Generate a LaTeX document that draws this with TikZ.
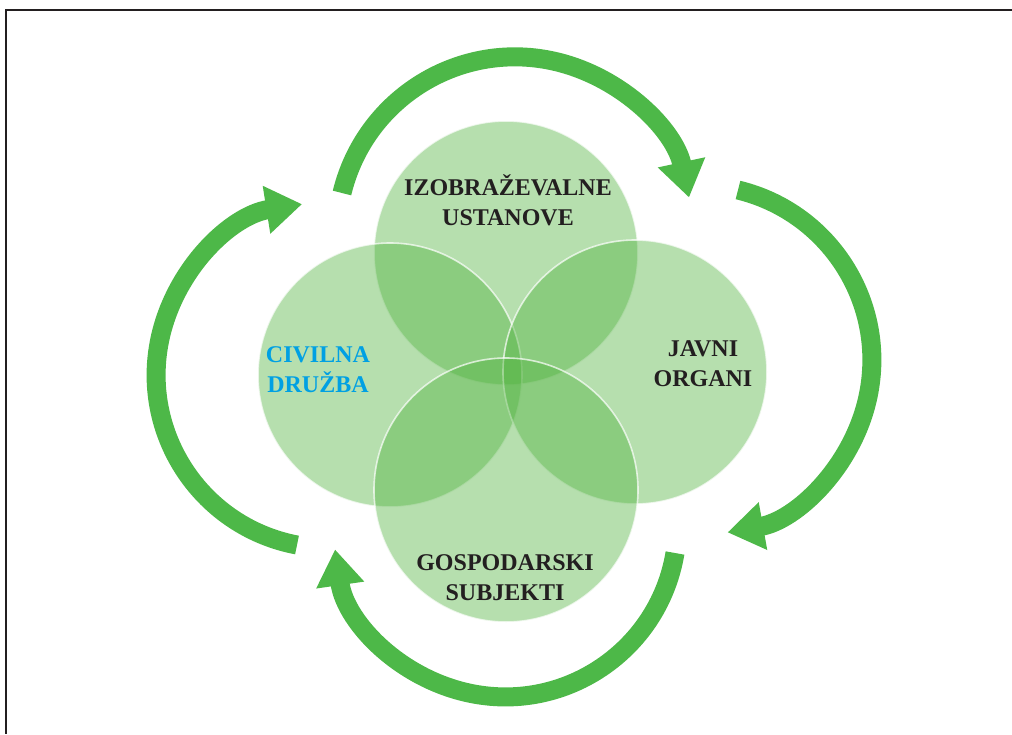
\documentclass[tikz,border=0pt]{standalone}
\usepackage{fontspec}
\setmainfont{Liberation Serif}
\usetikzlibrary{arrows.meta}
\definecolor{leafgreen}{RGB}{80,178,62}
\definecolor{arrowgreen}{RGB}{77,184,72}
\definecolor{civblue}{RGB}{0,160,227}
\definecolor{inkgray}{RGB}{35,31,32}
\tikzset{
  sector/.style={circle, minimum size=132pt, inner sep=0pt, fill=leafgreen, fill opacity=0.42,
    draw=white, draw opacity=0.7, line width=0.8pt},
  cyclearrow/.style={arrowgreen, line width=9.5pt, -{Triangle[width=23pt,length=18pt]}},
  sectorlabel/.style={font=\bfseries\fontsize{12}{15}\selectfont, text=inkgray, align=center}
}

\begin{document}
\begin{tikzpicture}[x=0.5pt,y=-0.5pt]
  \useasboundingbox (0,0) rectangle (1012,734);
  \draw[inkgray, line width=1pt] (1012,10) -- (6,10) -- (6,734); % frame, top and left only

  % the four overlapping circles
  \node[sector] (izob) at (506,253) {};
  \node[sector] (civil) at (390,375) {};
  \node[sector] (javni) at (635,372) {};
  \node[sector] (gosp) at (506,490) {};

  \node[sectorlabel] (izobtxt) at (508,200) {IZOBRAŽEVALNE\\USTANOVE};
  \node[sectorlabel] (javnitxt) at (703,364) {JAVNI\\ORGANI};
  \node[sectorlabel, text=civblue] (civiltxt) at (318,370) {CIVILNA\\DRUŽBA};
  \node[sectorlabel] (gosptxt) at (505,578) {GOSPODARSKI\\SUBJEKTI};

  % cycle arrows round the circles
  \coordinate (toptail) at (342,193);
  \coordinate (righttail) at (738,190);
  \coordinate (bottail) at (675,553);
  \coordinate (lefttail) at (297,545);
  \draw[cyclearrow] (toptail) arc[start angle=-166.4, end angle=-12.1, radius=178];
  \draw[cyclearrow] (righttail) arc[start angle=-76.4, end angle=79.9, radius=175];
  \draw[cyclearrow] (bottail) arc[start angle=9.4, end angle=171.8, radius=172];
  \draw[cyclearrow] (lefttail) arc[start angle=100.7, end angle=261, radius=173];
\end{tikzpicture}
\end{document}
